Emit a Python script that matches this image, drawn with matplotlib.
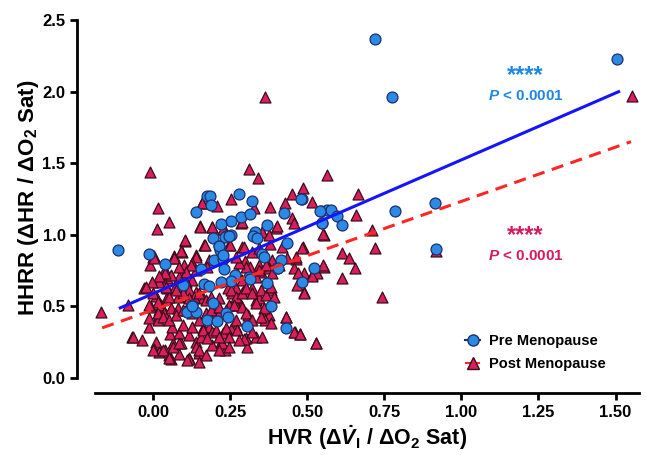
import numpy as np
import matplotlib
matplotlib.use("Agg")
import matplotlib.pyplot as plt
from matplotlib.lines import Line2D

plt.rcParams['font.family'] = ['Liberation Sans', 'DejaVu Sans']
plt.rcParams['font.weight'] = 'bold'
plt.rcParams['mathtext.fontset'] = 'custom'
plt.rcParams['mathtext.rm'] = 'Liberation Sans:bold'
plt.rcParams['mathtext.it'] = 'Liberation Sans:italic:bold'
plt.rcParams['mathtext.bf'] = 'Liberation Sans:bold'

# Pre menopause (HVR, HHRR)
pre_x = [-0.116, -0.015, 0.039, 0.093, 0.138, 0.176, 0.184, 0.279, 0.322, 0.187,
         0.284, 0.313, 0.252, 0.219, 0.370, 0.330, 0.324, 0.338, 0.235, 0.252,
         0.194, 0.214, 0.216, 0.352, 0.360, 0.198, 0.225, 0.155, 0.230, 0.266,
         0.311, 0.403, 0.252, 0.313, 0.370, 0.219, 0.165, 0.181, 0.095, 0.194,
         0.127, 0.108, 0.140, 0.235, 0.243, 0.176, 0.208, 0.305, 0.381, 0.432,
         0.482, 0.543, 0.565, 0.424, 0.548, 0.233, 0.246, 0.214, 0.225, 0.435,
         0.414, 0.406, 0.522, 0.484, 0.576, 0.540, 0.597, 0.546, 0.613, 0.478,
         0.786, 0.914, 0.916, 0.719, 0.775, 1.504, 0.125]
pre_y = [0.894, 0.864, 0.796, 0.654, 1.160, 1.270, 1.270, 1.285, 1.236, 1.208,
         1.126, 1.145, 1.098, 1.075, 1.068, 1.020, 0.990, 0.980, 0.990, 0.999,
         0.975, 0.920, 0.894, 0.866, 0.843, 0.824, 0.833, 0.761, 0.759, 0.717,
         0.707, 0.766, 0.680, 0.689, 0.666, 0.672, 0.656, 0.642, 0.649, 0.521,
         0.510, 0.463, 0.459, 0.452, 0.428, 0.405, 0.400, 0.365, 0.505, 0.347,
         1.252, 1.168, 1.173, 1.154, 1.080, 0.987, 0.992, 0.922, 0.859, 0.945,
         0.824, 0.766, 0.766, 0.672, 1.173, 1.166, 1.133, 1.085, 1.068, 1.248,
         1.166, 1.220, 0.900, 2.367, 1.964, 2.232, 0.505]

# Post menopause (HVR, HHRR)
post_x = [-0.011, 0.017, 0.052, 0.012, 0.158, 0.152, 0.103, 0.166, 0.003, 0.066,
          0.092, 0.138, 0.311, 0.341, 0.157, 0.208, 0.252, 0.327, 0.378, 0.151,
          0.190, 0.230, 0.286, 0.352, 0.397, 0.104, 0.090, 0.168, 0.246, 0.289,
          0.378, 0.322, -0.011, 0.000, 0.068, 0.138,
          -0.169, -0.083, -0.069, -0.038, -0.029, -0.013, -0.007, 0.009, 0.014, 0.019,
          0.025, 0.009, 0.001, 0.019, 0.039, 0.052, 0.057, 0.084, 0.117, 0.149,
          0.063, 0.090, 0.054, 0.084, 0.117, 0.138, 0.155, 0.061, 0.095, 0.127,
          0.160, 0.036, 0.057, 0.079, 0.106, 0.127, 0.149, 0.171, -0.013, 0.014,
          0.046, 0.046, 0.043, 0.019, 0.030, 0.046, 0.071, 0.079, 0.090, 0.106,
          0.117, 0.127, 0.138, 0.160, 0.100, 0.127, 0.068, 0.003, 0.149,
          0.298, 0.313, 0.343, 0.349, 0.386, 0.435, 0.464, 0.457, 0.489, 0.516,
          0.532, 0.554, 0.467, 0.489, 0.381, 0.322, 0.295, 0.268, 0.241, 0.257,
          0.305, 0.376, 0.333, 0.289, 0.273, 0.333, 0.343, 0.284, 0.268, 0.246,
          0.235, 0.203, 0.214, 0.309, 0.360, 0.376, 0.363, 0.432, 0.460, 0.475,
          0.527, 0.333, 0.300, 0.305, 0.268, 0.252, 0.225, 0.219, 0.233, 0.181,
          0.192, 0.198, 0.187,
          0.487, 0.565, 0.449, 0.428, 0.514, 0.451, 0.457, 0.403, 0.287, 0.225,
          0.192, 0.354, 0.376, 0.554, 0.248, 0.295, 0.343, 0.419, 0.486, 0.464,
          0.665, 0.657, 0.551, 0.710, 0.721, 0.611, 0.635, 0.654, 0.551, 0.613,
          0.484, 0.489, 0.527, 0.741, 0.432, 0.457, 0.475, 0.516, 0.471, 0.408,
          0.916, 0.363, 1.553,
          0.000, 0.030, 0.063, 0.084, 0.117, 0.138, 0.192, 0.222, 0.295, -0.067,
          0.084, 0.106, 0.117, 0.133, 0.149, 0.171, 0.187, 0.214, 0.252, 0.268,
          0.289, 0.300, 0.322, 0.349, 0.365, 0.381, 0.392, 0.343, 0.365, 0.386,
          0.300, 0.279, 0.268, 0.181, 0.176, 0.138, 0.122, 0.106, 0.084, 0.057,
          0.039, 0.019, -0.004, -0.024, -0.002, 0.014, -0.013, 0.014, 0.030, 0.052,
          0.074, 0.095, 0.117, 0.095, 0.074, 0.052, 0.041, 0.214, 0.262, 0.289,
          0.333, 0.360, 0.300, 0.268, 0.322, 0.349, 0.381, 0.203, 0.235, 0.273,
          0.160, 0.176, 0.214, 0.246, 0.279, 0.322, 0.354, 0.149, 0.171, 0.214,
          0.246, 0.111, 0.052]
post_y = [1.440, 1.190, 1.090, 1.040, 1.220, 1.060, 0.960, 0.930, 0.850, 0.850,
          0.880, 0.860, 1.457, 1.400, 1.220, 1.200, 1.248, 1.185, 1.196, 1.057,
          1.057, 1.038, 1.085, 1.020, 1.050, 0.964, 0.889, 0.929, 0.929, 0.917,
          0.934, 0.882, 0.789, 0.843, 0.836, 0.847,
          0.463, 0.510, 0.289, 0.265, 0.630, 0.358, 0.498, 0.575, 0.428, 0.475,
          0.510, 0.254, 0.203, 0.184, 0.196, 0.161, 0.133, 0.166, 0.138, 0.177,
          0.242, 0.242, 0.305, 0.312, 0.300, 0.254, 0.289, 0.358, 0.370, 0.358,
          0.347, 0.452, 0.487, 0.491, 0.475, 0.452, 0.405, 0.452, 0.421, 0.405,
          0.568, 0.626, 0.696, 0.672, 0.731, 0.724, 0.638, 0.568, 0.719, 0.626,
          0.568, 0.684, 0.603, 0.556, 0.789, 0.800, 0.836, 0.840, 0.114,
          0.817, 0.777, 0.789, 0.742, 0.824, 0.836, 0.830, 0.766, 0.731, 0.719,
          0.731, 0.777, 0.649, 0.598, 0.614, 0.626, 0.614, 0.631, 0.626, 0.591,
          0.598, 0.766, 0.707, 0.684, 0.731, 0.545, 0.556, 0.510, 0.510, 0.510,
          0.475, 0.498, 0.463, 0.440, 0.428, 0.440, 0.405, 0.428, 0.319, 0.305,
          0.242, 0.289, 0.277, 0.219, 0.358, 0.342, 0.312, 0.254, 0.196, 0.358,
          0.323, 0.428, 0.475,
          1.330, 1.418, 1.285, 1.224, 1.231, 1.115, 1.080, 1.060, 1.092, 1.038,
          1.052, 1.022, 0.999, 0.999, 0.929, 0.917, 0.906, 0.913, 0.913, 0.847,
          1.285, 1.138, 1.006, 1.033, 0.906, 0.875, 0.836, 0.766, 0.789, 0.696,
          0.906, 0.596, 0.247, 0.564, 0.428, 0.323, 0.307, 0.712, 0.731, 0.789,
          0.890, 1.960, 1.971,
          0.196, 0.196, 0.219, 0.242, 0.131, 0.219, 0.230, 0.247, 0.270, 0.289,
          0.707, 0.672, 0.614, 0.568, 0.591, 0.545, 0.568, 0.556, 0.614, 0.568,
          0.591, 0.626, 0.591, 0.614, 0.580, 0.633, 0.568, 0.754, 0.789, 0.735,
          0.777, 0.800, 0.847, 0.824, 0.777, 0.754, 0.789, 0.742, 0.777, 0.719,
          0.731, 0.712, 0.672, 0.638, 0.591, 0.533, 0.510, 0.452, 0.428, 0.405,
          0.440, 0.475, 0.556, 0.591, 0.614, 0.568, 0.638, 0.498, 0.510, 0.498,
          0.521, 0.487, 0.452, 0.405, 0.405, 0.428, 0.382, 0.335, 0.347, 0.335,
          0.335, 0.277, 0.289, 0.289, 0.265, 0.323, 0.289, 0.196, 0.161, 0.196,
          0.219, 0.126, 0.138]

# regression lines: (x start, x end), slope, intercept
pre_fit_x = [-0.107, 1.51]
pre_slope, pre_icpt = 0.934, 0.59
post_fit_x = [-0.166, 1.55]
post_slope, post_icpt = 0.758, 0.476

blue_fill = '#2a8ae6'
blue_edge = '#1f2f6b'
red_fill = '#d91e5b'
red_edge = '#3a0d1a'

fig = plt.figure(figsize=(6.46, 4.55), dpi=100)
ax = fig.add_axes([0.1466, 0.1598, 0.8420, 0.8116])

ax.scatter(post_x, post_y, marker='^', s=62, c=red_fill, edgecolors=red_edge,
           linewidths=0.9, zorder=3)
ax.scatter(pre_x, pre_y, marker='o', s=62, c=blue_fill, edgecolors=blue_edge,
           linewidths=0.9, zorder=4)

px = np.array(pre_fit_x)
ax.plot(px, pre_slope * px + pre_icpt, color='#1414ff', lw=2.2, zorder=5)
qx = np.array(post_fit_x)
ax.plot(qx, post_slope * qx + post_icpt, color='#ff2626', lw=2.2,
        dashes=(4, 2.5), zorder=5)

# significance annotations
ax.text(1.208, 2.03, '****', color='#1e88e5', fontsize=17, ha='center', va='bottom')
ax.text(1.208, 1.97, r'$\mathit{P}$ < 0.0001', color='#1e88e5', fontsize=11,
        ha='center', va='center')
ax.text(1.208, 0.915, '****', color='#d81b60', fontsize=17, ha='center', va='bottom')
ax.text(1.208, 0.853, r'$\mathit{P}$ < 0.0001', color='#d81b60', fontsize=11,
        ha='center', va='center')

ax.set_xlim(-0.19, 1.575)
ax.set_ylim(-0.03, 2.55)
ax.spines['top'].set_visible(False)
ax.spines['right'].set_visible(False)
for s in ('left', 'bottom'):
    ax.spines[s].set_linewidth(2)
ax.spines['left'].set_position(('outward', 12.5))
ax.spines['left'].set_bounds(0, 2.5)
ax.spines['bottom'].set_position(('outward', 7.5))

ax.set_xticks([0, 0.25, 0.5, 0.75, 1.0, 1.25, 1.5])
ax.set_xticklabels(['0.00', '0.25', '0.50', '0.75', '1.00', '1.25', '1.50'])
ax.set_yticks([0, 0.5, 1.0, 1.5, 2.0, 2.5])
ax.set_yticklabels(['0.0', '0.5', '1.0', '1.5', '2.0', '2.5'])
ax.tick_params(width=2, length=5, labelsize=12)
for lab in ax.get_xticklabels() + ax.get_yticklabels():
    lab.set_fontweight('bold')

ax.set_xlabel(r'HVR (Δ$\dot{V}_\mathrm{I}$ / ΔO$_\mathrm{2}$ Sat)', fontsize=15.5,
              fontweight='bold', labelpad=3)
ax.set_ylabel(r'HHRR (ΔHR / ΔO$_\mathrm{2}$ Sat)', fontsize=16,
              fontweight='bold', labelpad=1)

handles = [
    Line2D([], [], color='#1f2f6b', lw=1.5, marker='o', markersize=8,
           markerfacecolor=blue_fill, markeredgecolor=blue_edge),
    Line2D([], [], color='#ff2626', lw=1.5, ls='--', marker='^', markersize=8,
           markerfacecolor=red_fill, markeredgecolor=red_edge),
]
ax.legend(handles, ['Pre Menopause', 'Post Menopause'], loc='lower right',
          bbox_to_anchor=(0.963, -0.004), frameon=False, handlelength=1.0,
          handletextpad=0.6, labelspacing=0.6,
          prop={'weight': 'bold', 'size': 10.5})

fig.savefig('out.png', dpi=100)
